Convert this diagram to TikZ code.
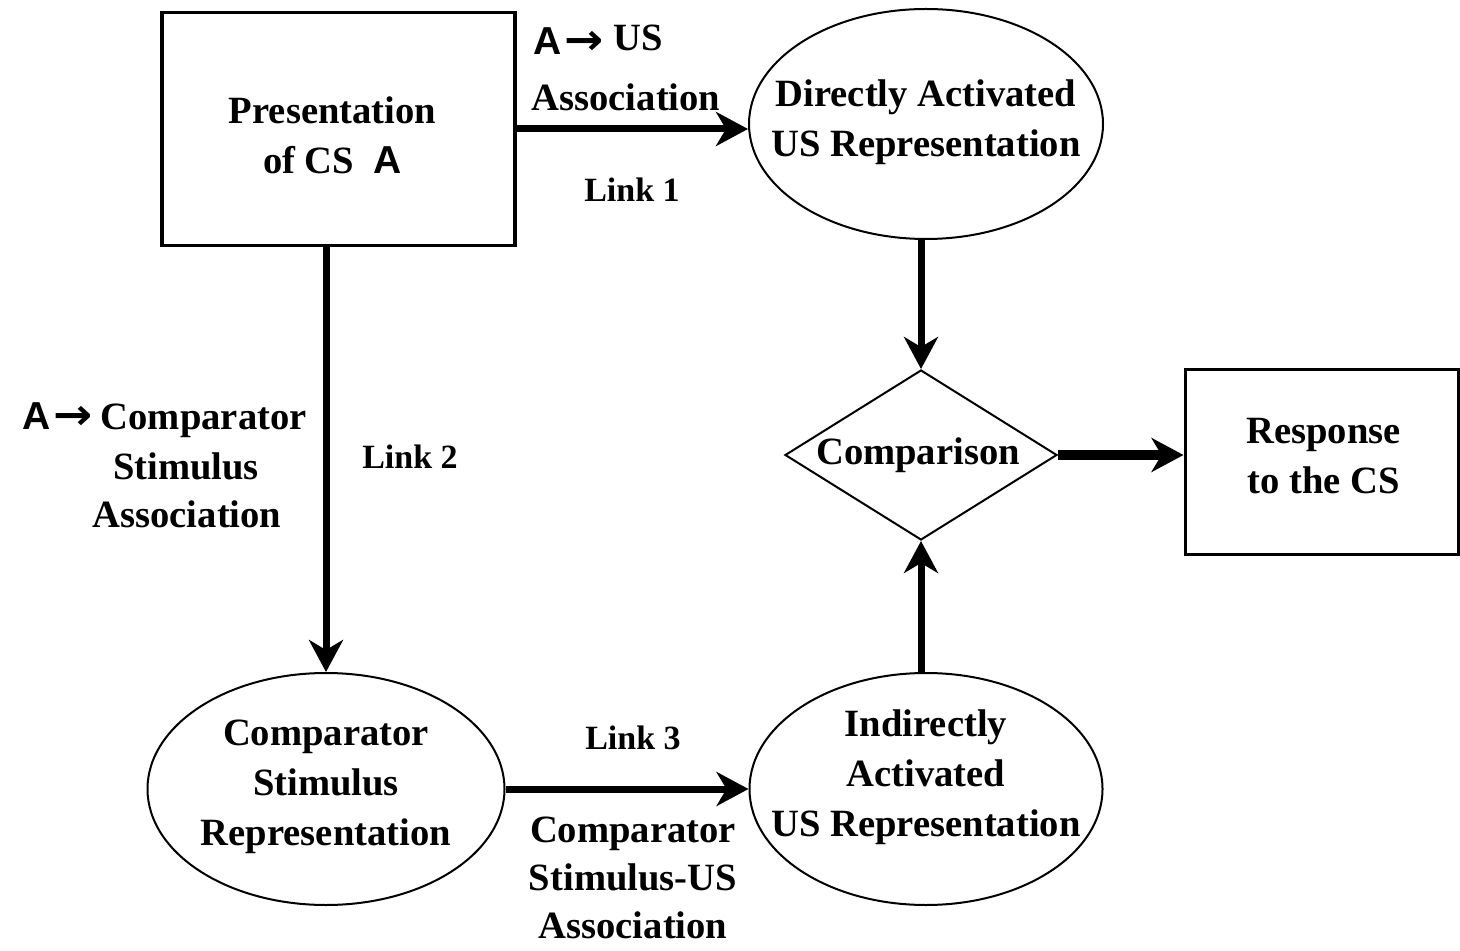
\documentclass[tikz,border=0pt]{standalone}
\usepackage{fontspec}
\setmainfont{Liberation Serif}
\newfontfamily\sansA{Liberation Sans}
\newfontfamily\arrowfont{DejaVu Sans}
\usetikzlibrary{shapes.geometric,arrows.meta}
\newcommand{\Asym}{{\sansA\bfseries\fontsize{19.5}{22}\selectfont A}}
\newcommand{\Arr}{{\arrowfont\bfseries\fontsize{19.5}{22}\selectfont\hspace{1.5pt}\scalebox{1.2}[1.1]{→}}}
\begin{document}
\begin{tikzpicture}[x=0.5pt,y=-0.5pt,
  font=\bfseries\fontsize{19.3}{25}\selectfont,
  boxnode/.style={draw, line width=1.6pt, rectangle, inner sep=0pt},
  ellnode/.style={draw, line width=1pt, ellipse, inner sep=0pt},
  dianode/.style={draw, line width=1pt, diamond, inner sep=0pt},
  txt/.style={align=center, inner sep=0pt},
  lbl/.style={align=center, inner sep=0pt},
  linklbl/.style={font=\bfseries\fontsize{17}{20}\selectfont, inner sep=0pt},
  conn/.style={line width=3.5pt, -{Stealth[length=16pt,width=17pt,inset=5pt]}},
]
\useasboundingbox (0,0) rectangle (1460,951);

% main nodes
\node[boxnode, minimum width=176.5pt, minimum height=116.5pt,
  label={[lbl,xshift=-3pt,yshift=-3pt]center:{Presentation\\of CS\ \ \Asym}}] (pres) at (338.5,129) {};
\node[ellnode, minimum width=177pt, minimum height=115pt,
  label={[lbl,yshift=1pt]center:{Directly Activated\\US Representation}}] (dir) at (926,124) {};
\node[dianode, minimum width=136pt, minimum height=85pt,
  label={[lbl,xshift=-1.5pt]center:{Comparison}}] (cmp) at (921,455) {};
\node[boxnode, line width=1.5pt, minimum width=136.5pt, minimum height=92pt,
  label={[lbl,xshift=1pt,yshift=3pt]center:{Response\\to the CS}}] (resp) at (1321.5,462) {};
\node[ellnode, minimum width=178.5pt, minimum height=116pt,
  label={[lbl,yshift=1pt]center:{Comparator\\Stimulus\\Representation}}] (cs) at (326,789) {};
\node[ellnode, minimum width=176.5pt, minimum height=116pt,
  label={[lbl,yshift=6pt]center:{Indirectly\\Activated\\US Representation}}] (ind) at (926,789) {};

% connectors
\draw[conn] (pres.east) -- (pres.east -| dir.west);
\draw[conn] (cs.north |- pres.south) -- (cs.north);
\draw[conn] (cmp.north |- dir.south) -- (cmp.north);
\draw[conn] (cmp.south |- ind.north) -- (cmp.south);
\draw[conn, line width=5pt] (cmp.east) -- (cmp.east -| resp.west);
\draw[conn] (cs.east) -- (ind.west);

% labels
\node[txt, anchor=west] (l1a) at (533,40) {\Asym\Arr\hspace{5pt}\raisebox{2pt}{US}};
\node[txt] (l1b) at (626,97) {Association};
\node[linklbl] (l1c) at (632,190) {Link 1};
\node[txt, anchor=west] (l2a) at (22,420) {\Asym\Arr\hspace{4pt}Comparator};
\node[txt] (l2b) at (186,466) {Stimulus};
\node[txt] (l2c) at (187,514) {Association};
\node[linklbl] (l2d) at (410,457) {Link 2};
\node[linklbl] (l3a) at (633,738) {Link 3};
\node[txt, font=\bfseries\fontsize{19.3}{24}\selectfont] (l3b) at (633,878) {Comparator\\Stimulus-US\\Association};
\end{tikzpicture}
\end{document}
